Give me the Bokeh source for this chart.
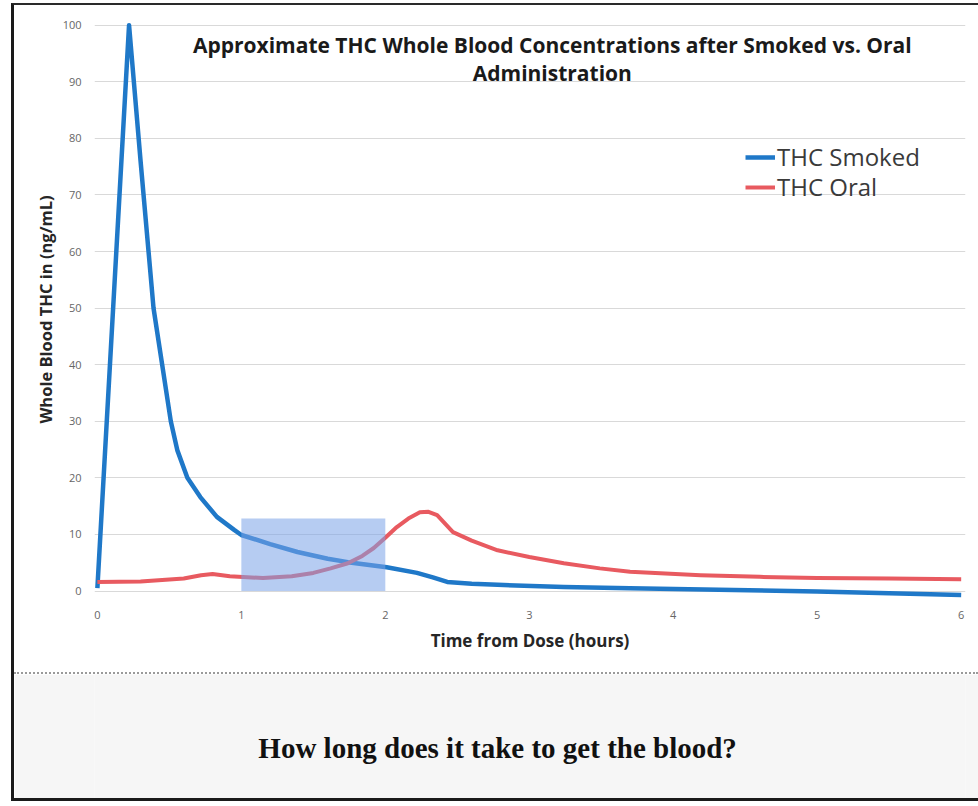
from bokeh.plotting import figure
from bokeh.models import Range1d, Legend, LegendItem, Label, ColumnDataSource
from bokeh.layouts import column
from bokeh.embed import file_html
from bokeh.resources import INLINE

# ---- data ----
smoked_hours = [0, 0.22, 0.30, 0.39, 0.45, 0.51, 0.555, 0.625, 0.715, 0.83, 0.95, 1.0,
                1.2, 1.39, 1.6, 1.74, 2.01, 2.22, 2.33, 2.43, 2.6, 2.78, 3.24, 3.7,
                4.42, 5.0, 5.5, 6.0]
smoked_conc = [0.5, 100, 76, 50, 40, 30, 24.9, 20, 16.6, 13.1, 10.8, 9.9,
               8.3, 6.9, 5.7, 5.1, 4.2, 3.2, 2.4, 1.6, 1.3, 1.1, 0.7, 0.5,
               0.2, -0.1, -0.4, -0.7]
oral_hours = [0, 0.3, 0.6, 0.72, 0.8, 0.92, 1.15, 1.35, 1.5, 1.62, 1.74, 1.84, 1.92,
              2.0, 2.08, 2.16, 2.24, 2.3, 2.36, 2.47, 2.6, 2.78, 3.0, 3.24, 3.49,
              3.7, 4.19, 4.6, 5.0, 5.5, 6.0]
oral_conc = [1.6, 1.7, 2.2, 2.8, 3.0, 2.6, 2.3, 2.6, 3.2, 4.0, 4.9, 6.2, 7.6,
             9.4, 11.3, 12.8, 13.9, 14.0, 13.4, 10.4, 8.9, 7.2, 6.0, 4.9, 4.0,
             3.4, 2.8, 2.5, 2.3, 2.2, 2.1]
highlight_start = [1]
highlight_end = [2]
highlight_low = [0]
highlight_high = [12.8]
x_ticks = [0, 1, 2, 3, 4, 5, 6]
y_ticks = [0, 10, 20, 30, 40, 50, 60, 70, 80, 90, 100]

series_names = ["THC Smoked", "THC Oral"]
title_lines = ["Approximate THC Whole Blood Concentrations after Smoked vs. Oral",
               "Administration"]
caption = "How long does it take to get the blood?"

FONT = "Open Sans"
W = 964
BL, BR = 80, 13

p = figure(width=W, height=667, x_range=Range1d(-0.02, 6.03), y_range=Range1d(-1.5, 101),
           output_backend="svg", toolbar_location=None,
           min_border_left=BL, min_border_right=BR, min_border_top=14, min_border_bottom=73)
p.outline_line_color = None
p.background_fill_color = "#ffffff"
p.border_fill_color = "#ffffff"
p.xgrid.grid_line_color = None
p.ygrid.grid_line_color = "#d9d9d9"
p.ygrid.grid_line_width = 1
p.xaxis.ticker = x_ticks
p.yaxis.ticker = y_ticks
for ax in (p.xaxis[0], p.yaxis[0]):
    ax.axis_line_color = None
    ax.major_tick_line_color = None
    ax.minor_tick_line_color = None
    ax.major_label_text_font = FONT
    ax.major_label_text_font_size = "11px"
    ax.major_label_text_color = "#666666"
    ax.axis_label_text_font = FONT
    ax.axis_label_text_font_style = "bold"
    ax.axis_label_text_color = "#262626"
p.xaxis.axis_label = "Time from Dose (hours)"
p.yaxis.axis_label = "Whole Blood THC in (ng/mL)"
p.xaxis.axis_label_text_font_size = "17px"
p.yaxis.axis_label_text_font_size = "16.5px"
p.xaxis.major_label_standoff = 5
p.xaxis.axis_label_standoff = 7
p.yaxis.major_label_standoff = 7
p.yaxis.axis_label_standoff = 3

src_s = ColumnDataSource(dict(t=smoked_hours, c=smoked_conc))
src_o = ColumnDataSource(dict(t=oral_hours, c=oral_conc))
r_s = p.line("t", "c", source=src_s, line_color="#1f78c8", line_width=4.5, line_join="round")
r_o = p.line("t", "c", source=src_o, line_color="#e85a60", line_width=4, line_join="round")

p.quad(left=highlight_start, right=highlight_end, bottom=highlight_low, top=highlight_high,
       fill_color="#7aa2e8", fill_alpha=0.55, line_color=None)


def make_legend(label, renderer, loc):
    lg = Legend(items=[LegendItem(label=label, renderers=[renderer])], location=loc)
    lg.border_line_color = None
    lg.background_fill_alpha = 0
    lg.padding = 0
    lg.margin = 0
    lg.glyph_width = 30
    lg.glyph_height = 26
    lg.label_height = 26
    lg.label_standoff = 2
    lg.label_text_font = FONT
    lg.label_text_font_size = "24px"
    lg.label_text_color = "#3a3a3a"
    return lg


p.add_layout(make_legend(series_names[0], r_s, (651, 426)))
p.add_layout(make_legend(series_names[1], r_o, (651, 396)))

p.add_layout(Label(x=3.16, y=96.5, text=title_lines[0], text_align="center",
                   text_baseline="middle", text_font=FONT, text_font_style="bold",
                   text_font_size="21px", text_color="#1a1a1a"))
p.add_layout(Label(x=3.16, y=91.5, text=title_lines[1], text_align="center",
                   text_baseline="middle", text_font=FONT, text_font_style="bold",
                   text_font_size="21px", text_color="#1a1a1a"))

p2 = figure(width=W, height=126, x_range=Range1d(-0.02, 6.03), y_range=Range1d(0, 1),
            output_backend="svg", toolbar_location=None,
            min_border_left=BL, min_border_right=BR, min_border_top=0, min_border_bottom=0,
            x_axis_location=None, y_axis_location=None,
            styles={"border-top": "2px dotted #9a9a9a"})
p2.grid.visible = False
p2.outline_line_color = None
p2.background_fill_color = "#f6f6f6"
p2.border_fill_color = "#f6f6f6"
p2.add_layout(Label(x=2.78, y=0.413, text=caption, text_align="center",
                    text_baseline="middle", text_font="Liberation Serif",
                    text_font_style="bold", text_font_size="29px", text_color="#111111"))

layout = column(p, p2, styles={"margin-left": "11px", "margin-top": "3px",
                               "border-left": "3px solid #1a1a1a",
                               "border-top": "2px solid #2a2a2a",
                               "border-bottom": "3px solid #1a1a1a"})

open("out.html", "w").write(file_html(layout, INLINE))
